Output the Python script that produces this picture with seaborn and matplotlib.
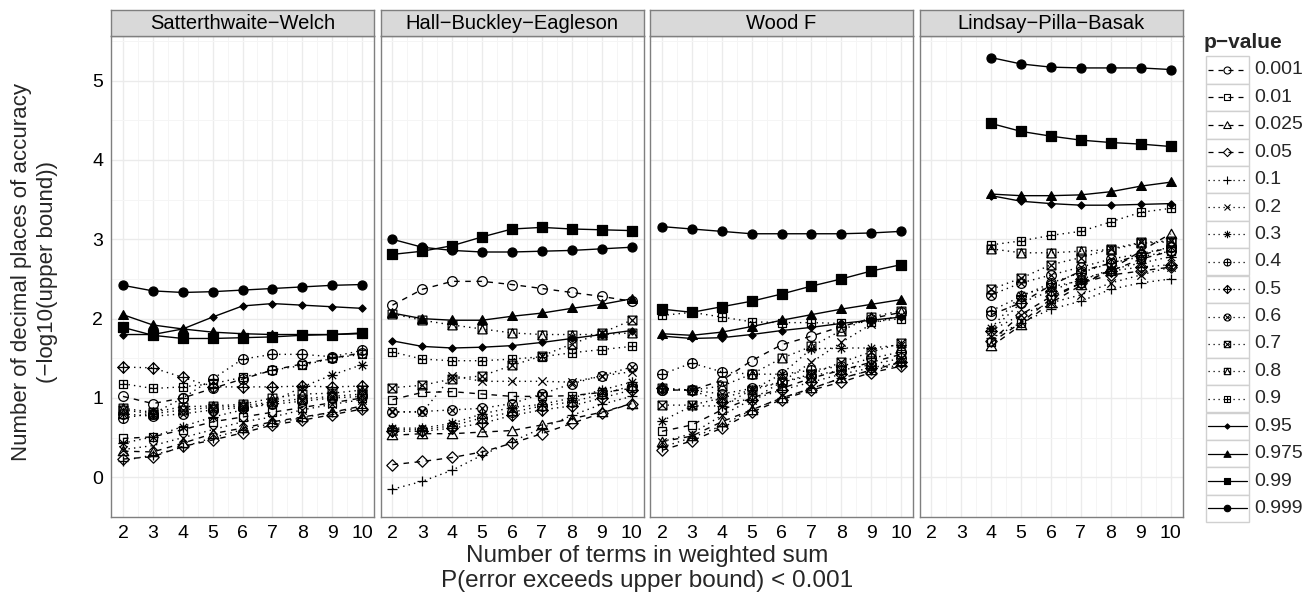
import numpy as np
import pandas as pd
import matplotlib
matplotlib.use("Agg")
import matplotlib.pyplot as plt
import seaborn as sns
from matplotlib.path import Path
from matplotlib.patches import Rectangle
from matplotlib.lines import Line2D

# ---------------- data ----------------
PANELS = ["Satterthwaite\u2212Welch", "Hall\u2212Buckley\u2212Eagleson",
          "Wood F", "Lindsay\u2212Pilla\u2212Basak"]
P_LEVELS = ["0.001", "0.01", "0.025", "0.05", "0.1", "0.2", "0.3", "0.4",
            "0.5", "0.6", "0.7", "0.8", "0.9", "0.95", "0.975", "0.99", "0.999"]
X_TERMS = [2, 3, 4, 5, 6, 7, 8, 9, 10]
X_TERMS_LPB = [4, 5, 6, 7, 8, 9, 10]

SW = {
    "0.001": [1.02, 0.93, 1.00, 1.12, 1.24, 1.35, 1.43, 1.50, 1.57],
    "0.01":  [0.49, 0.51, 0.60, 0.70, 0.76, 0.82, 0.88, 0.94, 1.00],
    "0.025": [0.33, 0.32, 0.43, 0.55, 0.62, 0.70, 0.76, 0.82, 0.90],
    "0.05":  [0.23, 0.26, 0.39, 0.47, 0.56, 0.66, 0.72, 0.79, 0.86],
    "0.1":   [0.21, 0.28, 0.38, 0.50, 0.60, 0.68, 0.75, 0.82, 0.88],
    "0.2":   [0.35, 0.40, 0.50, 0.60, 0.70, 0.76, 0.85, 0.92, 0.98],
    "0.3":   [0.43, 0.51, 0.64, 0.76, 0.85, 0.95, 1.14, 1.29, 1.42],
    "0.4":   [0.75, 0.80, 1.00, 1.24, 1.49, 1.55, 1.55, 1.52, 1.60],
    "0.5":   [1.39, 1.38, 1.26, 1.14, 1.14, 1.14, 1.15, 1.14, 1.15],
    "0.6":   [0.80, 0.77, 0.80, 0.85, 0.88, 0.92, 0.96, 1.00, 1.02],
    "0.7":   [0.85, 0.80, 0.85, 0.88, 0.90, 0.95, 0.99, 1.02, 1.05],
    "0.8":   [0.87, 0.82, 0.89, 0.90, 0.92, 1.00, 1.05, 1.06, 1.10],
    "0.9":   [1.18, 1.12, 1.14, 1.18, 1.26, 1.35, 1.41, 1.50, 1.55],
    "0.95":  [1.80, 1.80, 1.87, 2.02, 2.16, 2.19, 2.17, 2.15, 2.13],
    "0.975": [2.05, 1.92, 1.87, 1.83, 1.81, 1.80, 1.80, 1.80, 1.81],
    "0.99":  [1.89, 1.79, 1.75, 1.75, 1.76, 1.77, 1.79, 1.80, 1.82],
    "0.999": [2.42, 2.35, 2.33, 2.34, 2.36, 2.38, 2.40, 2.42, 2.43],
}
HBE = {
    "0.001": [2.17, 2.37, 2.47, 2.47, 2.43, 2.38, 2.33, 2.28, 2.22],
    "0.01":  [0.98, 1.07, 1.08, 1.05, 1.02, 1.02, 1.03, 1.07, 1.12],
    "0.025": [0.53, 0.55, 0.55, 0.57, 0.59, 0.66, 0.74, 0.82, 0.93],
    "0.05":  [0.16, 0.20, 0.25, 0.32, 0.43, 0.55, 0.68, 0.81, 0.93],
    "0.1":   [-0.15, -0.05, 0.09, 0.28, 0.45, 0.62, 0.78, 0.92, 1.02],
    "0.2":   [0.83, 0.82, 1.28, 1.21, 1.21, 1.21, 1.20, 1.28, 1.33],
    "0.3":   [0.62, 0.62, 0.68, 0.80, 0.88, 0.92, 1.00, 1.10, 1.20],
    "0.4":   [0.60, 0.60, 0.65, 0.75, 0.82, 0.90, 0.95, 1.05, 1.15],
    "0.5":   [0.58, 0.58, 0.62, 0.68, 0.78, 0.85, 0.90, 1.00, 1.10],
    "0.6":   [0.82, 0.83, 0.85, 0.87, 0.93, 1.05, 1.18, 1.28, 1.39],
    "0.7":   [1.13, 1.16, 1.24, 1.28, 1.41, 1.53, 1.68, 1.82, 1.98],
    "0.8":   [2.06, 1.98, 1.92, 1.87, 1.82, 1.80, 1.80, 1.80, 1.82],
    "0.9":   [1.58, 1.49, 1.47, 1.47, 1.49, 1.52, 1.57, 1.61, 1.65],
    "0.95":  [1.72, 1.65, 1.63, 1.64, 1.66, 1.70, 1.75, 1.80, 1.85],
    "0.975": [2.07, 2.00, 1.98, 1.98, 2.03, 2.07, 2.13, 2.18, 2.25],
    "0.99":  [2.81, 2.85, 2.92, 3.03, 3.13, 3.15, 3.13, 3.12, 3.11],
    "0.999": [3.00, 2.90, 2.86, 2.84, 2.84, 2.85, 2.86, 2.88, 2.90],
}
WOOD = {
    "0.001": [1.10, 1.10, 1.22, 1.47, 1.67, 1.78, 1.90, 2.00, 2.08],
    "0.01":  [0.58, 0.66, 0.85, 1.00, 1.12, 1.25, 1.35, 1.45, 1.55],
    "0.025": [0.45, 0.52, 0.70, 0.85, 1.00, 1.12, 1.25, 1.35, 1.45],
    "0.05":  [0.34, 0.46, 0.62, 0.82, 0.98, 1.10, 1.20, 1.32, 1.40],
    "0.1":   [0.38, 0.50, 0.65, 0.85, 1.00, 1.12, 1.25, 1.35, 1.42],
    "0.2":   [0.45, 0.55, 0.78, 0.98, 1.20, 1.45, 1.70, 1.93, 2.05],
    "0.3":   [0.71, 0.90, 0.90, 1.10, 1.30, 1.62, 1.63, 1.63, 1.67],
    "0.4":   [1.30, 1.44, 1.33, 1.30, 1.30, 1.35, 1.40, 1.50, 1.58],
    "0.5":   [1.12, 1.10, 0.95, 0.98, 1.10, 1.20, 1.30, 1.38, 1.45],
    "0.6":   [1.10, 1.10, 1.05, 1.12, 1.20, 1.28, 1.35, 1.42, 1.50],
    "0.7":   [0.91, 0.91, 1.00, 1.10, 1.20, 1.30, 1.45, 1.58, 1.69],
    "0.8":   [1.12, 1.10, 1.15, 1.30, 1.50, 1.65, 1.85, 2.02, 2.10],
    "0.9":   [2.04, 2.08, 2.02, 1.96, 1.95, 1.95, 1.94, 1.96, 2.00],
    "0.95":  [1.78, 1.75, 1.76, 1.80, 1.85, 1.89, 1.94, 1.98, 2.02],
    "0.975": [1.81, 1.79, 1.83, 1.90, 1.98, 2.05, 2.12, 2.18, 2.24],
    "0.99":  [2.12, 2.08, 2.15, 2.22, 2.31, 2.41, 2.50, 2.60, 2.68],
    "0.999": [3.16, 3.13, 3.10, 3.07, 3.07, 3.07, 3.07, 3.08, 3.10],
}
LPB = {
    "0.001": [2.05, 2.20, 2.42, 2.60, 2.70, 2.80, 2.90],
    "0.01":  [1.70, 1.95, 2.25, 2.45, 2.60, 2.75, 2.85],
    "0.025": [1.65, 1.92, 2.20, 2.42, 2.62, 2.85, 3.07],
    "0.05":  [1.72, 2.05, 2.28, 2.45, 2.55, 2.60, 2.65],
    "0.1":   [1.75, 1.95, 2.12, 2.22, 2.37, 2.45, 2.50],
    "0.2":   [1.85, 2.05, 2.20, 2.30, 2.45, 2.55, 2.65],
    "0.3":   [1.88, 2.30, 2.40, 2.48, 2.62, 2.70, 2.78],
    "0.4":   [2.10, 2.28, 2.45, 2.58, 2.70, 2.78, 2.85],
    "0.5":   [1.85, 2.20, 2.35, 2.50, 2.60, 2.65, 2.68],
    "0.6":   [2.30, 2.45, 2.55, 2.65, 2.75, 2.82, 2.90],
    "0.7":   [2.37, 2.51, 2.68, 2.77, 2.88, 2.96, 2.98],
    "0.8":   [2.88, 2.83, 2.83, 2.85, 2.87, 2.95, 2.97],
    "0.9":   [2.93, 2.98, 3.05, 3.10, 3.22, 3.34, 3.39],
    "0.95":  [3.55, 3.48, 3.45, 3.43, 3.43, 3.44, 3.45],
    "0.975": [3.57, 3.55, 3.55, 3.56, 3.60, 3.67, 3.72],
    "0.99":  [4.46, 4.36, 4.30, 4.25, 4.22, 4.20, 4.17],
    "0.999": [5.29, 5.21, 5.17, 5.16, 5.16, 5.16, 5.14],
}
PANEL_DATA = [(SW, X_TERMS), (HBE, X_TERMS), (WOOD, X_TERMS), (LPB, X_TERMS_LPB)]

# ---------------- marker shapes ----------------
M, L, C = Path.MOVETO, Path.LINETO, Path.CLOSEPOLY


def seg(*pts):
    return Path(list(pts), [M] + [L] * (len(pts) - 1))


def comp(*paths):
    return Path.make_compound_path(*paths)


circle = Path.unit_circle()
square = Path([(-1, -1), (1, -1), (1, 1), (-1, 1), (-1, -1)], [M, L, L, L, C])
diamond = Path([(0, -1), (1, 0), (0, 1), (-1, 0), (0, -1)], [M, L, L, L, C])
tri = Path([(-1, -0.8), (1, -0.8), (0, 1), (-1, -0.8)], [M, L, L, C])
plus = comp(seg((-1, 0), (1, 0)), seg((0, -1), (0, 1)))
r = 1 / np.sqrt(2)
xc = comp(seg((-r, -r), (r, r)), seg((-r, r), (r, -r)))
xs = comp(seg((-1, -1), (1, 1)), seg((-1, 1), (1, -1)))
xbig = comp(seg((-1, -1), (1, 1)), seg((-1, 1), (1, -1)))
aster = comp(seg((-1, 0), (1, 0)), seg((0, -1), (0, 1)),
             seg((-r, -r), (r, r)), seg((-r, r), (r, -r)))

DASHED = (0, (4, 4))
DOTTED = (0, (1, 3))
STYLE = {
    "0.001": dict(marker=circle, ms=7.0, mfc="none", ls=DASHED),
    "0.01":  dict(marker=square, ms=6.3, mfc="none", ls=DASHED),
    "0.025": dict(marker=tri, ms=7.5, mfc="none", ls=DASHED),
    "0.05":  dict(marker=diamond, ms=8.2, mfc="none", ls=DASHED),
    "0.1":   dict(marker=plus, ms=7.5, mfc="none", ls=DOTTED),
    "0.2":   dict(marker=xbig, ms=6.0, mfc="none", ls=DOTTED),
    "0.3":   dict(marker=aster, ms=7.5, mfc="none", ls=DOTTED),
    "0.4":   dict(marker=comp(circle, plus), ms=7.0, mfc="none", ls=DOTTED),
    "0.5":   dict(marker=comp(diamond, plus), ms=8.2, mfc="none", ls=DOTTED),
    "0.6":   dict(marker=comp(circle, xc), ms=7.0, mfc="none", ls=DOTTED),
    "0.7":   dict(marker=comp(square, xs), ms=6.3, mfc="none", ls=DOTTED),
    "0.8":   dict(marker=comp(square, seg((-1, -1), (0, 1), (1, -1))), ms=6.3,
                  mfc="none", ls=DOTTED),
    "0.9":   dict(marker=comp(square, plus), ms=6.3, mfc="none", ls=DOTTED),
    "0.95":  dict(marker=diamond, ms=5.2, mfc="black", ls="-"),
    "0.975": dict(marker=tri, ms=7.0, mfc="black", ls="-"),
    "0.99":  dict(marker=square, ms=6.5, mfc="black", ls="-"),
    "0.999": dict(marker=circle, ms=6.5, mfc="black", ls="-"),
}

# ---------------- figure ----------------
sns.set_theme(style="white")
plt.rcParams["font.family"] = ["Liberation Sans", "DejaVu Sans"]

W, H = 1315, 599
fig = plt.figure(figsize=(W / 100, H / 100), dpi=100)
fig.patch.set_facecolor("white")


def fx(px):
    return px / W


def fy(py):
    return 1 - py / H


PANEL_LEFT = [111, 380.5, 650, 919.5]
PW = 263
TOP, BOT = 36, 517
STRIP_TOP = 10
GRAY = "#7F7F7F"

for i, (name, (data, xs_vals)) in enumerate(zip(PANELS, PANEL_DATA)):
    ax = fig.add_axes([fx(PANEL_LEFT[i]), fy(BOT), PW / W, (BOT - TOP) / H])
    ax.set_facecolor("white")
    for p in P_LEVELS:
        st = STYLE[p]
        df = pd.DataFrame({"x": xs_vals, "y": data[p]})
        sns.lineplot(data=df, x="x", y="y", ax=ax, color="black",
                     linestyle=st["ls"], lw=1.0, marker=st["marker"],
                     ms=st["ms"], mfc=st["mfc"], mec="black", mew=0.9,
                     errorbar=None, sort=True, legend=False)
    ax.set_xlim(1.6, 10.4)
    ax.set_ylim(-0.45, 5.5625)
    ax.set_xticks(range(2, 11))
    ax.set_xticks(np.arange(2.5, 10.0, 1.0), minor=True)
    ax.set_yticks(range(0, 6))
    ax.set_yticks(np.arange(-0.5, 5.6, 1.0), minor=True)
    ax.grid(which="major", color="#EBEBEB", lw=1.0)
    ax.grid(which="minor", color="#F5F5F5", lw=0.7)
    ax.set_axisbelow(True)
    ax.set_xlabel("")
    ax.set_ylabel("")
    ax.tick_params(which="minor", length=0)
    ax.tick_params(which="major", length=3.5, width=0.9, color="#555555",
                   labelsize=14, labelcolor="black", pad=2)
    if i > 0:
        ax.tick_params(axis="y", left=False, labelleft=False)
    for sp in ax.spines.values():
        sp.set_color(GRAY)
        sp.set_linewidth(1.0)
    # strip
    sax = fig.add_axes([fx(PANEL_LEFT[i]), fy(TOP), PW / W, (TOP - STRIP_TOP) / H])
    sax.set_facecolor("#D9D9D9")
    sax.set_xticks([])
    sax.set_yticks([])
    for sp in sax.spines.values():
        sp.set_color(GRAY)
        sp.set_linewidth(1.0)
    sax.text(0.5, 0.47, name, ha="center", va="center", fontsize=14.5,
             color="black", transform=sax.transAxes)

# axis titles
fig.text(fx(647), fy(556), "Number of terms in weighted sum", ha="center",
         va="center", fontsize=17.5)
fig.text(fx(647), fy(581), "P(error exceeds upper bound) < 0.001", ha="center",
         va="center", fontsize=17.5)
fig.text(fx(22), fy(272), "Number of decimal places of accuracy", ha="center",
         va="center", rotation=90, fontsize=16)
fig.text(fx(48), fy(272), "(\u2212log10(upper bound))", ha="center",
         va="center", rotation=90, fontsize=16)

# legend (ggplot-style boxed keys)
lax = fig.add_axes([0, 0, 1, 1], facecolor="none")
lax.set_xlim(0, W)
lax.set_ylim(H, 0)
lax.axis("off")
lax.text(1204, 42, "p\u2212value", fontsize=15, fontweight="bold",
         ha="left", va="center")
for j, p in enumerate(P_LEVELS):
    cy = 70 + 27.4 * j
    lax.add_patch(Rectangle((1206, cy - 13.7), 43, 27.4, facecolor="white",
                            edgecolor="#D0D0D0", lw=1.0))
    st = STYLE[p]
    lax.add_line(Line2D([1208, 1247], [cy, cy], color="black", lw=0.9,
                        linestyle=st["ls"]))
    lax.add_line(Line2D([1227.5], [cy], color="black", marker=st["marker"],
                        ms=st["ms"] * 0.72, mfc=st["mfc"], mec="black",
                        mew=0.8, linestyle="none"))
    lax.text(1254, cy, p, fontsize=14, ha="left", va="center")

fig.savefig("out.png", dpi=100, facecolor="white")
